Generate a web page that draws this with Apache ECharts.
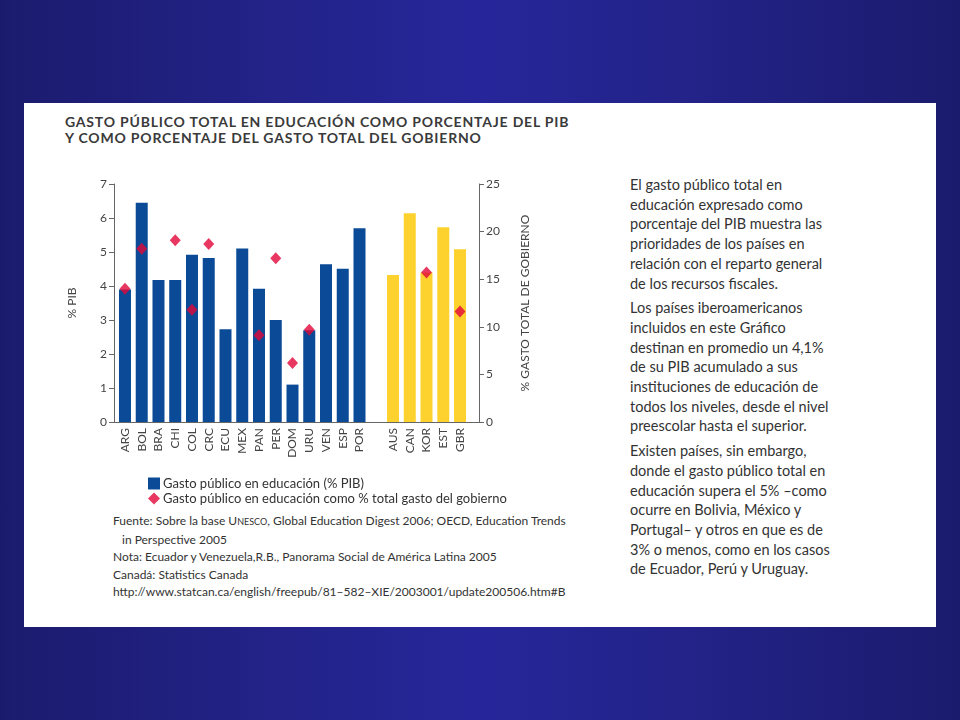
<!DOCTYPE html>
<html>
<head>
<meta charset="utf-8">
<script src="https://cdn.jsdelivr.net/npm/echarts@6/dist/echarts.min.js"></script>
<style>
  html, body { margin: 0; padding: 0; width: 960px; height: 720px; overflow: hidden; }
  body {
    background: linear-gradient(90deg, #1b1b6e 0%, #23238a 30%, #26269a 50%, #23238a 70%, #1b1b6e 100%);
    font-family: Lato, "Open Sans", sans-serif;
    position: relative;
  }
  #panel { position: absolute; left: 24px; top: 103px; width: 912px; height: 524px; background: #fff; }
  #title { position: absolute; left: 65px; top: 114px; font-weight: bold; font-size: 14px; line-height: 16px; color: #3a3a3a; letter-spacing: 0.8px; white-space: nowrap; }
  #chart { position: absolute; left: 0; top: 0; width: 960px; height: 720px; }
  #notes { position: absolute; left: 113px; top: 512px; font-size: 12px; line-height: 17.5px; color: #333; white-space: nowrap; }
  #notes .ind { padding-left: 9px; }
  #side { position: absolute; left: 630px; top: 175px; font-size: 14.5px; line-height: 19.7px; color: #333; white-space: nowrap; }
  #side p { margin: 0 0 5px 0; }
  .sc { font-size: 9px; }
</style>
</head>
<body>
<div id="panel"></div>
<div id="title">GASTO PÚBLICO TOTAL EN EDUCACIÓN COMO PORCENTAJE DEL PIB<br>Y COMO PORCENTAJE DEL GASTO TOTAL DEL GOBIERNO</div>
<div id="notes">
  Fuente: Sobre la base U<span class="sc">NESCO</span>, Global Education Digest 2006; OECD, Education Trends<br>
  <span class="ind">in Perspective 2005</span><br>
  Nota: Ecuador y Venezuela,R.B., Panorama Social de América Latina 2005<br>
  Canadá: Statistics Canada<br>
  http://www.statcan.ca/english/freepub/81–582–XIE/2003001/update200506.htm#B
</div>
<div id="side">
  <p>El gasto público total en<br>educación expresado como<br>porcentaje del PIB muestra las<br>prioridades de los países en<br>relación con el reparto general<br>de los recursos fiscales.</p>
  <p>Los países iberoamericanos<br>incluidos en este Gráfico<br>destinan en promedio un 4,1%<br>de su PIB acumulado a sus<br>instituciones de educación de<br>todos los niveles, desde el nivel<br>preescolar hasta el superior.</p>
  <p>Existen países, sin embargo,<br>donde el gasto público total en<br>educación supera el 5% –como<br>ocurre en Bolivia, México y<br>Portugal– y otros en que es de<br>3% o menos, como en los casos<br>de Ecuador, Perú y Uruguay.</p>
</div>
<div id="chart"></div>
<script>
const categories = ['ARG','BOL','BRA','CHI','COL','CRC','ECU','MEX','PAN','PER','DOM','URU','VEN','ESP','POR','','AUS','CAN','KOR','EST','GBR'];
const gastoPIB = [3.9, 6.45, 4.18, 4.18, 4.92, 4.82, 2.73, 5.1, 3.92, 3.0, 1.1, 2.7, 4.64, 4.51, 5.7, null, 4.32, 6.14, 4.4, 5.73, 5.08];
const gastoGobierno = [14.0, 18.2, null, 19.1, 11.8, 18.7, null, null, 9.1, 17.2, 6.2, 9.7, null, null, null, null, null, null, 15.7, null, 11.6];
const groupOECD = ['AUS','CAN','KOR','EST','GBR'];
const leftTicks = [0, 7, 1];
const rightTicks = [0, 25, 5];

const BLUE = '#0b4a96';
const YELLOW = '#fdd22e';
const RED = '#e2063a';
const AXIS = '#666';
const FONT = 'Lato, "Open Sans", sans-serif';

const chart = echarts.init(document.getElementById('chart'), null, { renderer: 'canvas' });

const barData = gastoPIB.map((v, i) => ({
  value: v,
  itemStyle: { color: groupOECD.indexOf(categories[i]) >= 0 ? YELLOW : BLUE }
}));

chart.setOption({
  backgroundColor: 'transparent',
  animation: false,
  textStyle: { fontFamily: FONT },
  legend: {
    orient: 'vertical',
    left: 143,
    top: 472,
    itemWidth: 12,
    itemHeight: 12,
    itemGap: 2,
    textStyle: { fontSize: 13, color: '#333', fontFamily: FONT, padding: [0, 0, 0, -2] },
    data: [
      { name: 'Gasto público en educación (% PIB)', icon: 'rect' },
      { name: 'Gasto público en educación como % total gasto del gobierno', icon: 'diamond' }
    ]
  },
  grid: [
    { left: 116.6, top: 184, width: 351.8, height: 238 },
    { left: 114, top: 184, width: 365, height: 238 }
  ],
  xAxis: [
    {
      type: 'category', gridIndex: 0, data: categories,
      axisLine: { show: false }, axisTick: { show: false },
      axisLabel: { rotate: 90, interval: 0, fontSize: 12, color: '#444', margin: 6, fontFamily: FONT }
    },
    {
      type: 'value', gridIndex: 1, min: 0, max: 1,
      axisLine: { show: true, onZero: false, lineStyle: { color: AXIS, width: 1 } },
      axisTick: { show: false }, axisLabel: { show: false }, splitLine: { show: false }
    }
  ],
  yAxis: [
    { type: 'value', gridIndex: 0, min: leftTicks[0], max: leftTicks[1], show: false },
    { type: 'value', gridIndex: 0, min: rightTicks[0], max: rightTicks[1], show: false },
    {
      type: 'value', gridIndex: 1, position: 'left', min: leftTicks[0], max: leftTicks[1], interval: leftTicks[2],
      name: '% PIB', nameLocation: 'middle', nameRotate: 90, nameGap: 36,
      nameTextStyle: { fontSize: 12, color: '#444', fontFamily: FONT },
      axisLine: { show: true, lineStyle: { color: AXIS } },
      axisTick: { show: true, length: 5, lineStyle: { color: AXIS } },
      axisLabel: { fontSize: 12, color: '#444', margin: 7, fontFamily: FONT },
      splitLine: { show: false }
    },
    {
      type: 'value', gridIndex: 1, position: 'right', min: rightTicks[0], max: rightTicks[1], interval: rightTicks[2],
      name: '% GASTO TOTAL DE GOBIERNO', nameLocation: 'middle', nameRotate: 90, nameGap: 40,
      nameTextStyle: { fontSize: 12, color: '#444', fontFamily: FONT },
      axisLine: { show: true, lineStyle: { color: AXIS } },
      axisTick: { show: true, length: 5, lineStyle: { color: AXIS } },
      axisLabel: { fontSize: 12, color: '#444', margin: 7, fontFamily: FONT },
      splitLine: { show: false }
    }
  ],
  series: [
    {
      name: 'Gasto público en educación (% PIB)',
      type: 'bar', xAxisIndex: 0, yAxisIndex: 0,
      data: barData, barWidth: 12,
      itemStyle: { color: BLUE }
    },
    {
      name: 'Gasto público en educación como % total gasto del gobierno',
      type: 'scatter', xAxisIndex: 0, yAxisIndex: 1,
      data: gastoGobierno, symbol: 'diamond', symbolSize: [11, 12],
      itemStyle: { color: RED }, z: 5
    }
  ]
});
</script>
</body>
</html>
